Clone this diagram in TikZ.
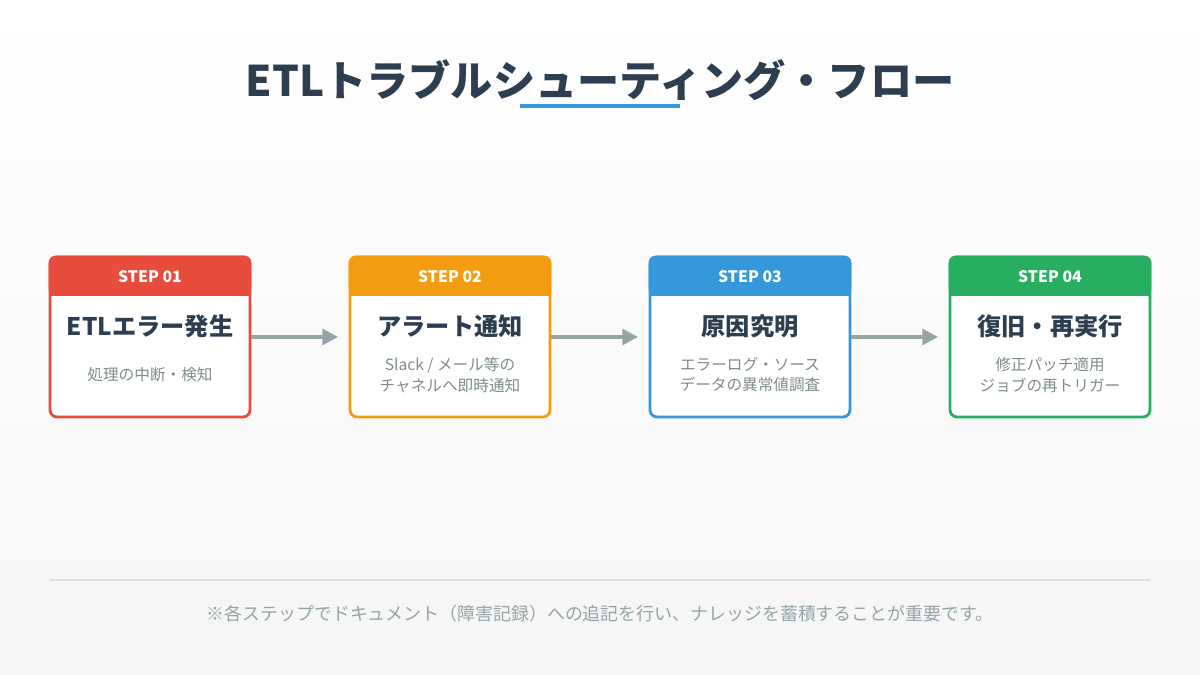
\documentclass[tikz,border=0pt]{standalone}
\usepackage{fontspec}
\setmainfont{Noto Sans CJK JP}
\usetikzlibrary{positioning,arrows.meta}
\definecolor{titletext}{HTML}{2C3E50}
\definecolor{steperror}{HTML}{E74C3C}
\definecolor{stepalert}{HTML}{F39C12}
\definecolor{stepcause}{HTML}{3498DB}
\definecolor{steprecover}{HTML}{27AE60}
\definecolor{arrowgray}{HTML}{95A5A6}
\definecolor{desctext}{HTML}{7F8C8D}
\tikzstyle{stepbox}=[draw, line width=1.6pt, rounded corners=4pt, fill=white, minimum width=4cm, minimum height=3.2cm]
\tikzstyle{steptitle}=[text=titletext, font=\fontsize{13.8}{16}\selectfont\bfseries]
\tikzstyle{stepdesc}=[text=desctext, font=\fontsize{8.9}{11.5}\selectfont, align=center]
\tikzstyle{flowarrow}=[arrowgray, line width=2.2pt, -{Triangle[length=9pt,width=9pt]}, shorten >=6pt]
\begin{document}
\begin{tikzpicture}[x=0.02cm, y=-0.02cm]
            \path[top color=white, bottom color=gray!8] (0,0) rectangle (1200,675);
            \useasboundingbox (0,0) rectangle (1200,675);

            \node[text=titletext, font=\fontsize{24}{28}\selectfont\bfseries] (title) at (600,80)
                {ETLトラブルシューティング・フロー};
            \draw[stepcause, line width=2.3pt] (520,106) coordinate (ulstart) -- (680,106) coordinate (ulend);

            \foreach \i/\col/\name/\descr in {
                1/steperror/ETLエラー発生/処理の中断・検知,
                2/stepalert/アラート通知/{Slack / メール等の\\チャネルへ即時通知},
                3/stepcause/原因究明/{エラーログ・ソース\\データの異常値調査},
                4/steprecover/復旧・再実行/{修正パッチ適用\\ジョブの再トリガー}}{
                \node[stepbox, draw=\col] (box\i) at (\i*300-150,337) {};
                \fill[\col, rounded corners=4pt] (box\i.north west) -- ++(0,40) -- ([yshift=-40*0.02cm]box\i.north east) -- (box\i.north east) -- cycle;
                \fill[\col] ([yshift=-10*0.02cm]box\i.north west) rectangle ([yshift=-40*0.02cm]box\i.north east);
                \node[text=white, font=\fontsize{9}{10}\selectfont\bfseries] (head\i) at (\i*300-150,277) {STEP 0\i};
                \node[steptitle] (name\i) at (\i*300-150,326) {\name};
                \node[stepdesc] (desc\i) at (\i*300-150,375) {\descr};
            }

            \foreach \a/\b in {1/2, 2/3, 3/4}
                \draw[flowarrow] (box\a.east) -- (box\b.west);

            \draw[gray!25, line width=0.6pt] (50,580) coordinate (rulestart) -- (1150,580) coordinate (ruleend);
            \node[text=arrowgray, font=\fontsize{10.2}{12}\selectfont] (footnote) at (600,614)
                {※各ステップでドキュメント（障害記録）への追記を行い、ナレッジを蓄積することが重要です。};
        \end{tikzpicture}
\end{document}
